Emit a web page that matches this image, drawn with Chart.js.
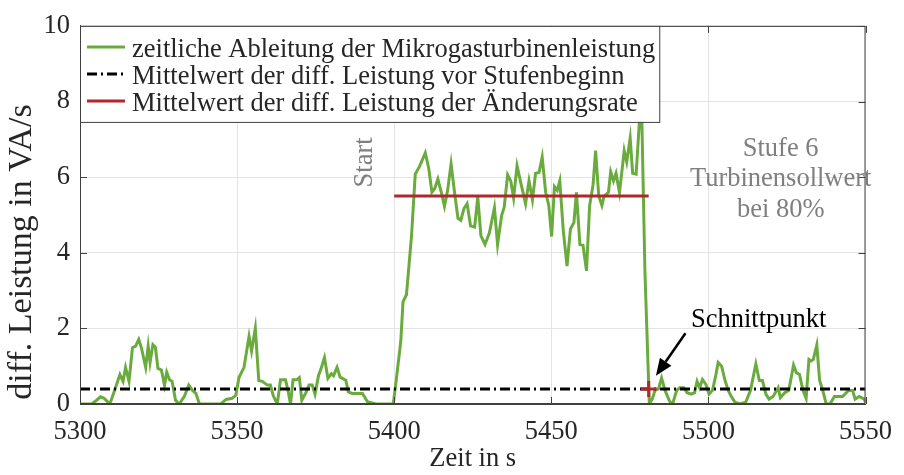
<!DOCTYPE html>
<html lang="de">
<head>
<meta charset="utf-8">
<title>Zeitliche Ableitung der Mikrogasturbinenleistung</title>
<script src="https://cdn.jsdelivr.net/npm/chart.js@4.4.1/dist/chart.umd.min.js"></script>
<style>
  html, body { margin: 0; padding: 0; background: #fff; }
  #wrap { width: 904px; height: 475px; }
</style>
</head>
<body>
<div id="wrap"><canvas id="chart" width="904" height="475"></canvas></div>
<script>
// Zeit in s
const zeit = [
  5300, 5303.7, 5305.3, 5306.5, 5307.7, 5309.5, 5311, 5312.7, 5313.7, 5314.5,
  5315.6, 5316.7, 5317.7, 5318.7, 5319.5, 5320.9, 5321.7, 5322.3, 5323.2, 5324,
  5324.8, 5325.9, 5326.9, 5327.6, 5328.5, 5329.3, 5330.4, 5331.6, 5333.2, 5334.6,
  5335.8, 5336.9, 5338, 5344.8, 5346.5, 5348.4, 5349.6, 5350.6, 5352.2, 5353.8,
  5354.6, 5355.8, 5356.9, 5358, 5359.6, 5360.6, 5361.5, 5362.8, 5363.8, 5365.4,
  5366.2, 5367, 5367.8, 5368.9, 5369.8, 5370.6, 5371.9, 5372.9, 5373.9, 5374.8,
  5375.9, 5376.7, 5377.8, 5378.9, 5380, 5380.7, 5381.8, 5382.8, 5384.6, 5385.4,
  5386.6, 5389.9, 5391.5, 5394.1, 5399.7, 5400.6, 5402.1, 5402.8, 5403.9, 5405.5,
  5406.7, 5408.1, 5409.9, 5411, 5412, 5412.9, 5413.9, 5415, 5416, 5417,
  5418.1, 5419.2, 5420.3, 5421.2, 5422.2, 5423.2, 5424.3, 5425.6, 5426.6, 5427.6,
  5428.9, 5430.3, 5431.9, 5432.9, 5434.2, 5435, 5436.1, 5437.1, 5438, 5439.1,
  5440.3, 5441.8, 5442.9, 5444, 5445, 5446.1, 5447.1, 5448.2, 5449.2, 5450.1,
  5451, 5451.9, 5452.7, 5453.8, 5455, 5456.1, 5457.2, 5458, 5459.1, 5460.1,
  5461.2, 5462.2, 5463.3, 5464.1, 5465.1, 5466.1, 5466.8, 5468.2, 5468.9, 5469.8,
  5470.6, 5471.7, 5472.4, 5473.2, 5474, 5475.1, 5475.9, 5477, 5478, 5478.8,
  5479.8, 5481.2, 5482.2, 5483, 5484.1, 5485.1, 5486.2, 5487.6, 5488.6, 5489.9,
  5490.9, 5492.2, 5493.2, 5494.6, 5495.6, 5496.4, 5497.2, 5498.1, 5499.2, 5500.2,
  5501.3, 5502.4, 5503.1, 5504.2, 5505.2, 5506.3, 5507.3, 5508.4, 5510, 5511.9,
  5513.4, 5515.1, 5516.2, 5517.2, 5518.3, 5519.3, 5520.6, 5522.2, 5522.9, 5524.3,
  5525.6, 5527.1, 5528, 5529, 5530.1, 5531.1, 5532, 5532.7, 5533.4, 5534.5,
  5535.4, 5536.4, 5537.5, 5538.7, 5540.1, 5542.7, 5544.6, 5545.9, 5546.7, 5548,
  5549.6, 5550
];

// diff. Leistung in VA/s
const ableitung = [
  0, 0, 0.1, 0.19, 0.15, 0, 0.36, 0.78, 0.6, 0.97,
  0.6, 1.49, 1.53, 1.71, 1.5, 0.97, 1.53, 1.1, 1.57, 1.5,
  0.94, 0.9, 0.5, 0.84, 0.64, 0.6, 0.1, 0, 0.2, 0.5,
  0.36, 0.28, 0, 0, 0.12, 0.15, 0.23, 0.7, 0.97, 1.79,
  1.4, 2.0, 0.62, 0.6, 0.5, 0.5, 0.22, 0, 0.64, 0.64,
  0.36, 0, 0.64, 0.64, 0.7, 0.1, 0.3, 0.5, 0.5, 0.26,
  0.75, 0.93, 1.23, 0.68, 0.8, 0.75, 0.97, 0.71, 0.63, 0.32,
  0.28, 0.28, 0.06, 0, 0, 0.6, 1.66, 2.7, 2.89, 4.43,
  6.08, 6.29, 6.64, 6.23, 5.6, 5.7, 5.95, 5.6, 5.23, 5.65,
  6.35, 5.6, 4.91, 4.86, 5.17, 5.3, 4.71, 4.68, 5.47, 4.45,
  4.22, 4.53, 5.19, 4.22, 4.99, 5.2, 6.06, 5.9, 5.45, 6.3,
  5.85, 5.3, 5.9, 5.4, 6.1, 6.12, 6.53, 5.6, 5.25, 4.43,
  5.75, 5.65, 5.9, 4.6, 3.65, 4.63, 4.8, 5.6, 4.22, 4.2,
  3.52, 5.25, 5.8, 6.7, 5.5, 5.25, 5.5, 5.6, 6.14, 5.9,
  6.1, 5.6, 6.1, 6.7, 6.4, 7.03, 6.1, 6.08, 7.42, 7.6,
  3.5, 0, 0.15, 0.36, 0.4, 0.69, 0.36, 0.08, 0, 0.36,
  0.43, 0.43, 0.3, 0.26, 0.3, 0.6, 0.43, 0.65, 0.52, 0.26,
  0.36, 0.78, 1.1, 1.0, 0.65, 0.36, 0.2, 0.05, 0, 0.05,
  0.36, 1.06, 0.62, 0.62, 0.26, 0.13, 0.2, 0.43, 0.17, 0.3,
  0.36, 1.03, 0.83, 0.78, 0.36, 0.15, 1.18, 1.14, 1.18, 1.56,
  0.62, 0.36, 0, 0, 0.2, 0.2, 0.36, 0.36, 0.13, 0.2,
  0.13, 0.05
];

// Mittelwert vor Stufenbeginn
const mittelVorZeit = [5300, 5550];
const mittelVorWert = [0.4, 0.4];

// Mittelwert der Änderungsrate
const rateZeit = [5400, 5481];
const rateWert = [5.5, 5.5];

// Schnittpunkt
const schnittZeit = [5481];
const schnittWert = [0.4];

const legendLabels = [
  'zeitliche Ableitung der Mikrogasturbinenleistung',
  'Mittelwert der diff. Leistung vor Stufenbeginn',
  'Mittelwert der diff. Leistung der Änderungsrate'
];
const yTitel = 'diff. Leistung in VA/s';

const FONT = "'Liberation Serif', 'Times New Roman', serif";
const GREEN = '#6aab3e';
const RED = '#b0282e';
const GRAY = '#7f7f7f';
const TEXT = '#262626';
const DASHDOT = [10, 4, 2, 4];

const toPoints = (xs, ys) => xs.map((x, i) => ({ x: x, y: ys[i] }));

// Rahmen, Ticks nach innen, Legende und Beschriftungen
const overlayPlugin = {
  id: 'overlay',
  afterDatasetsDraw(chart) {
    const { ctx, chartArea: a, scales } = chart;
    const xs = scales.x, ys = scales.y;
    ctx.save();

    // Rahmen
    ctx.strokeStyle = '#404040';
    ctx.lineWidth = 1;
    ctx.strokeRect(a.left + 0.5, a.top + 0.5, a.right - a.left - 1, a.bottom - a.top - 1);

    // Ticks nach innen
    const tl = 7;
    ctx.beginPath();
    xs.ticks.forEach(t => {
      const px = Math.round(xs.getPixelForValue(t.value)) + 0.5;
      ctx.moveTo(px, a.bottom); ctx.lineTo(px, a.bottom - tl);
      ctx.moveTo(px, a.top); ctx.lineTo(px, a.top + tl);
    });
    ys.ticks.forEach(t => {
      const py = Math.round(ys.getPixelForValue(t.value)) + 0.5;
      ctx.moveTo(a.left, py); ctx.lineTo(a.left + tl, py);
      ctx.moveTo(a.right, py); ctx.lineTo(a.right - tl, py);
    });
    ctx.stroke();

    // y-Achsentitel
    ctx.save();
    ctx.font = '34px ' + FONT;
    ctx.fillStyle = TEXT;
    ctx.textAlign = 'center';
    ctx.textBaseline = 'middle';
    ctx.translate(22, 252);
    ctx.rotate(-Math.PI / 2);
    ctx.fillText(yTitel, 0, 0);
    ctx.restore();

    // Pfeil zum Schnittpunkt
    const x0 = xs.getPixelForValue(5492.7), y0 = ys.getPixelForValue(1.87);
    const x1 = xs.getPixelForValue(5483.3), y1 = ys.getPixelForValue(0.75);
    const ang = Math.atan2(y1 - y0, x1 - x0);
    const hl = 17, hw = 7;
    const bx = x1 - hl * Math.cos(ang), by = y1 - hl * Math.sin(ang);
    ctx.strokeStyle = '#000';
    ctx.lineWidth = 2.5;
    ctx.beginPath(); ctx.moveTo(x0, y0); ctx.lineTo(bx, by); ctx.stroke();
    ctx.fillStyle = '#000';
    ctx.beginPath();
    ctx.moveTo(x1, y1);
    ctx.lineTo(bx + hw * Math.sin(ang), by - hw * Math.cos(ang));
    ctx.lineTo(bx - hw * Math.sin(ang), by + hw * Math.cos(ang));
    ctx.closePath(); ctx.fill();

    ctx.font = '26.5px ' + FONT;
    ctx.textAlign = 'center';
    ctx.textBaseline = 'middle';
    ctx.fillStyle = '#000';
    ctx.fillText('Schnittpunkt', xs.getPixelForValue(5516), ys.getPixelForValue(2.23));

    // Graue Beschriftungen
    ctx.fillStyle = GRAY;
    const sx = xs.getPixelForValue(5523);
    ctx.fillText('Stufe 6', sx, ys.getPixelForValue(6.75));
    ctx.fillText('Turbinensollwert', sx, ys.getPixelForValue(5.95));
    ctx.fillText('bei 80%', sx, ys.getPixelForValue(5.12));

    ctx.save();
    ctx.translate(xs.getPixelForValue(5390.8), ys.getPixelForValue(6.39));
    ctx.rotate(-Math.PI / 2);
    ctx.fillText('Start', 0, 0);
    ctx.restore();

    // Legende
    const styles = [
      { color: GREEN, dash: [] },
      { color: '#000', dash: DASHDOT },
      { color: RED, dash: [] }
    ];
    ctx.textAlign = 'left';
    const textX = 132;
    let maxW = 0;
    legendLabels.forEach(l => { maxW = Math.max(maxW, ctx.measureText(l).width); });
    const boxL = a.left, boxT = a.top, boxR = textX + maxW + 4, boxB = a.top + 96;
    ctx.fillStyle = '#fff';
    ctx.fillRect(boxL, boxT, boxR - boxL, boxB - boxT);
    ctx.strokeStyle = '#404040';
    ctx.lineWidth = 1;
    ctx.setLineDash([]);
    ctx.strokeRect(boxL + 0.5, boxT + 0.5, boxR - boxL, boxB - boxT);
    legendLabels.forEach((l, i) => {
      const cy = a.top + 24 + i * 27;
      ctx.strokeStyle = styles[i].color;
      ctx.lineWidth = 3;
      ctx.setLineDash(styles[i].dash);
      ctx.beginPath(); ctx.moveTo(87, cy - 3); ctx.lineTo(125, cy - 3); ctx.stroke();
      ctx.setLineDash([]);
      ctx.fillStyle = TEXT;
      ctx.fillText(l, textX, cy);
    });

    ctx.restore();
  }
};

new Chart(document.getElementById('chart'), {
  type: 'line',
  data: {
    datasets: [
      {
        label: legendLabels[0],
        data: toPoints(zeit, ableitung),
        borderColor: GREEN,
        borderWidth: 3,
        pointRadius: 0,
        tension: 0,
        order: 4
      },
      {
        label: legendLabels[1],
        data: toPoints(mittelVorZeit, mittelVorWert),
        borderColor: '#000',
        borderWidth: 3,
        borderDash: DASHDOT,
        pointRadius: 0,
        order: 3
      },
      {
        label: legendLabels[2],
        data: toPoints(rateZeit, rateWert),
        borderColor: RED,
        borderWidth: 3,
        pointRadius: 0,
        order: 2
      },
      {
        label: 'Schnittpunkt',
        data: toPoints(schnittZeit, schnittWert),
        showLine: false,
        pointStyle: 'cross',
        pointRadius: 8,
        pointBorderWidth: 3,
        pointBorderColor: RED,
        order: 1
      }
    ]
  },
  options: {
    responsive: false,
    animation: false,
    layout: { padding: { top: 19, right: 33, left: 0, bottom: 0 } },
    plugins: {
      legend: { display: false },
      tooltip: { enabled: false }
    },
    scales: {
      x: {
        type: 'linear',
        min: 5300,
        max: 5550,
        afterFit: s => { s.height = 71; },
        ticks: {
          stepSize: 50,
          color: TEXT,
          padding: 12,
          font: { family: FONT, size: 26.5 },
          callback: v => String(v)
        },
        grid: { color: '#e4e4e4', drawTicks: false },
        border: { color: '#404040' },
        title: {
          display: true,
          text: 'Zeit in s',
          color: TEXT,
          padding: 0,
          font: { family: FONT, size: 26.5 }
        }
      },
      y: {
        min: 0,
        max: 10,
        afterFit: s => { s.width = 80; },
        ticks: { stepSize: 2, color: TEXT, padding: 10, font: { family: FONT, size: 26.5 } },
        grid: { color: '#e4e4e4', drawTicks: false },
        border: { color: '#404040' },
        title: { display: false }
      }
    }
  },
  plugins: [overlayPlugin]
});
</script>
</body>
</html>
